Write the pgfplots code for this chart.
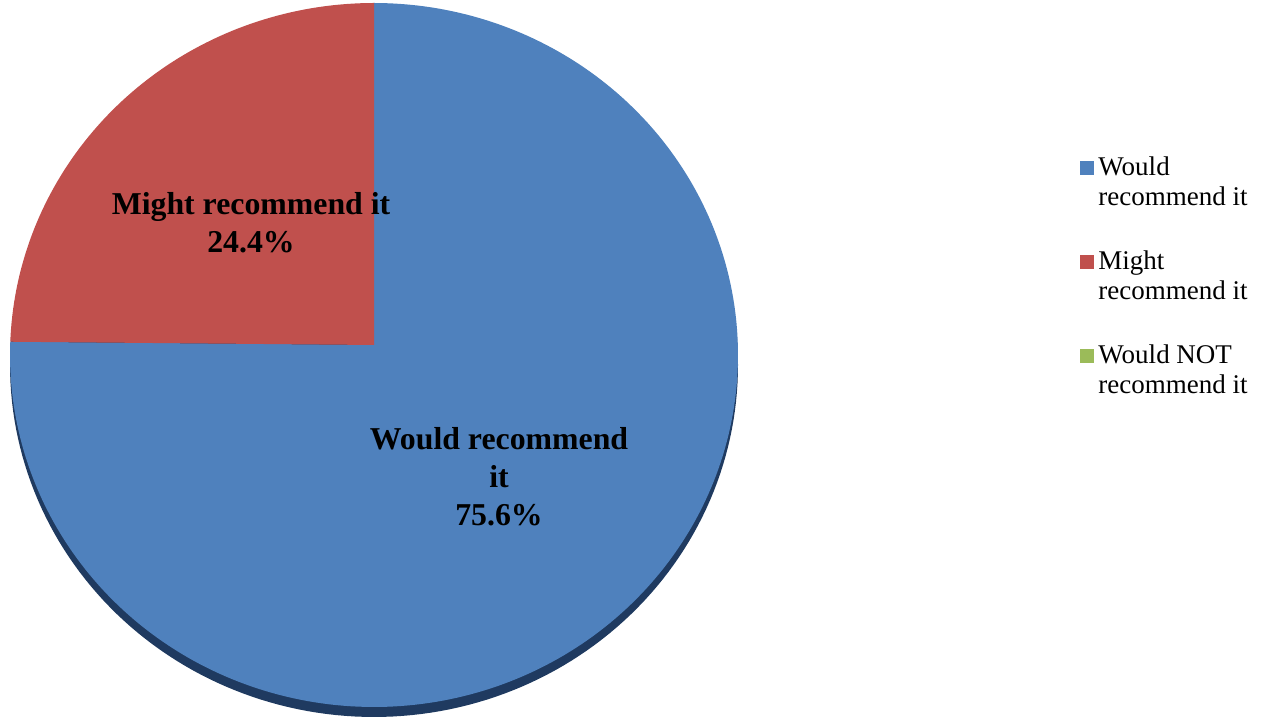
\documentclass[border=0pt]{standalone}
\usepackage{pgfplots}
\pgfplotsset{compat=1.18}
\usepackage{fontspec}
\setmainfont{Liberation Serif}
\definecolor{pieblue}{HTML}{4F81BD}
\definecolor{piered}{HTML}{C0504D}
\definecolor{piegreen}{HTML}{9BBB59}
\definecolor{pieshadow}{HTML}{1F3A60}
\begin{document}
\begin{tikzpicture}
\begin{axis}[
  x=0.5pt, y=0.5pt,
  xmin=0, xmax=1263, ymin=0, ymax=721,
  hide axis, clip=false,
  legend style={at={(axis cs:1080,571)}, anchor=north west, draw=none, fill=none,
    font=\fontsize{13.5}{15}\selectfont, row sep=31pt, inner sep=0pt,
    cells={anchor=base west}},
  legend cell align=left,
  legend image code/.code={\fill[#1] (0pt,-4.5pt) rectangle (7pt,2.5pt);},
]
\path (axis cs:0,0) rectangle (axis cs:1263,721);
% shadow / rim
\addplot[fill=pieshadow, draw=none, domain=0:360, samples=241, forget plot]
  ({374+364*cos(x)},{356+352*sin(x)}) -- cycle;
% Would recommend it: 75.6%
\addplot[fill=pieblue, draw=none, domain=-182.16:90, samples=241]
  ({374+364*cos(x)},{366+352*sin(x)}) -- (374,376) -- cycle;
\addlegendentry{\begin{tabular}[t]{@{}l@{}}Would\\recommend it\end{tabular}}
% Might recommend it: 24.4%
\addplot[fill=piered, draw=none, domain=90:177.84, samples=81]
  ({374+364*cos(x)},{366+352*sin(x)}) -- (374,376) -- cycle;
\addlegendentry{\begin{tabular}[t]{@{}l@{}}Might\\recommend it\end{tabular}}
% Would NOT recommend it: 0%
\addlegendimage{fill=piegreen, draw=none}
\addlegendentry{\begin{tabular}[t]{@{}l@{}}Would NOT\\recommend it\end{tabular}}
\node[align=center, font=\fontsize{15.9}{19}\selectfont\bfseries] at (axis cs:251,498)
  {Might recommend it\\24.4\%};
\node[align=center, font=\fontsize{15.9}{19}\selectfont\bfseries] at (axis cs:499,244)
  {Would recommend\\it\\75.6\%};
\end{axis}
\end{tikzpicture}
\end{document}
